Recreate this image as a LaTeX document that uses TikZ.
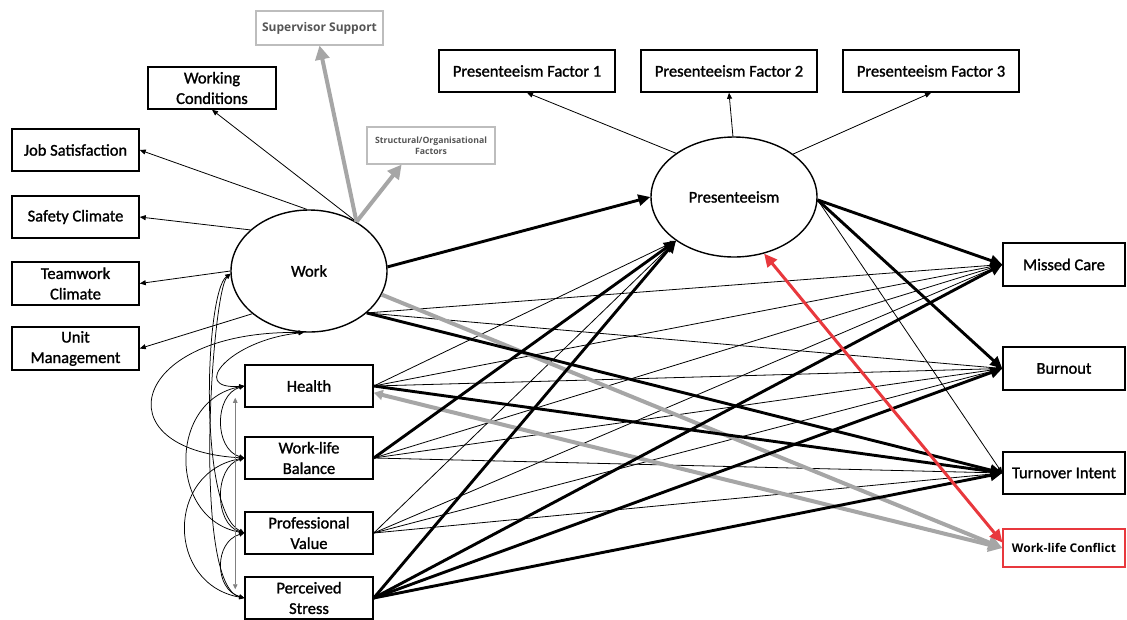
\documentclass[tikz,border=0pt]{standalone}
\usepackage{fontspec}
\setmainfont{Carlito}
\newfontfamily\boxfont{Carlito}[FakeBold=1.3]
\newfontfamily\labfont{Open Sans}
\usetikzlibrary{arrows.meta,shapes.geometric}
\definecolor{arrgray}{HTML}{A6A6A6}
\definecolor{boxgray}{HTML}{BDBDBD}
\definecolor{txtgray}{HTML}{555555}
\definecolor{linkred}{HTML}{E8383D}
\begin{document}
\begin{tikzpicture}[x=1pt,y=-1pt,
  box/.style={draw, line width=1.5pt, rectangle, inner sep=0pt, align=center,
    font=\boxfont\fontsize{16.5}{20.5}\selectfont, minimum height=42pt},
  latent/.style={draw, line width=1.4pt, ellipse, inner sep=0pt,
    font=\boxfont\fontsize{16.5}{20.5}\selectfont},
  greybox/.style={draw=boxgray, line width=1.1pt, rectangle, inner sep=0pt, align=center,
    text=txtgray},
  thinarr/.style={line width=0.8pt, -{Triangle[length=6pt,width=5pt]}},
  strongarr/.style={line width=2.9pt, -{Triangle[length=12pt,width=11pt]}},
  greyarr/.style={line width=4pt, draw=arrgray, -{Triangle[length=14pt,width=14pt]}},
  greydbl/.style={line width=4pt, draw=arrgray, {Triangle[length=9pt,width=10pt]}-{Triangle[length=14pt,width=14pt]}},
  reddbl/.style={line width=3pt, draw=linkred, {Triangle[length=13pt,width=12pt]}-{Triangle[length=13pt,width=12pt]}},
  cov/.style={line width=0.75pt, {Triangle[length=5pt,width=4.5pt]}-{Triangle[length=5pt,width=4.5pt]}}
]
\useasboundingbox (0,0) rectangle (1127,619);

% indicators of the Work factor
\node[greybox, minimum width=127pt, minimum height=34pt, font=\labfont\bfseries\fontsize{12}{14}\selectfont] (sup) at (319.5,28) {Supervisor Support};
\node[box, minimum width=128pt] (wcond) at (212,88) {Working\\Conditions};
\node[box, minimum width=127pt] (jobsat) at (75.5,150) {Job Satisfaction};
\node[box, minimum width=127pt] (safety) at (75.5,217) {Safety Climate};
\node[box, minimum width=127pt, minimum height=43pt] (team) at (75.5,283.5) {Teamwork\\Climate};
\node[box, minimum width=127pt, minimum height=43pt] (unit) at (75.5,348.5) {Unit\\Management};
\node[greybox, minimum width=128pt, minimum height=37pt, font=\labfont\bfseries\fontsize{8.7}{11}\selectfont] (struct) at (431,145.5) {Structural/Organisational\\Factors};

% latent variables
\node[latent, minimum width=156pt, minimum height=122pt] (work) at (309,271) {Work};
\node[latent, minimum width=166pt, minimum height=120pt] (pres) at (734,197) {Presenteeism};

% indicators of Presenteeism
\node[box, minimum width=176pt] (f1) at (527,71) {Presenteeism Factor 1};
\node[box, minimum width=176pt] (f2) at (729,71) {Presenteeism Factor 2};
\node[box, minimum width=176pt] (f3) at (931,71) {Presenteeism Factor 3};

% outcomes
\node[box, minimum width=122pt, minimum height=43pt] (mc) at (1064,264.5) {Missed Care};
\node[box, minimum width=122pt, minimum height=43pt] (burn) at (1064,368.5) {Burnout};
\node[box, minimum width=122pt] (turn) at (1064,473) {Turnover Intent};
\node[draw=linkred, line width=1.1pt, rectangle, inner sep=0pt, minimum width=122pt, minimum height=38pt,
  font=\labfont\bfseries\fontsize{12}{14}\selectfont] (wlc) at (1064,548) {Work-life Conflict};

% observed predictors
\node[box, minimum width=128pt] (health) at (309,386) {Health};
\node[box, minimum width=128pt] (wlb) at (309,458) {Work-life\\Balance};
\node[box, minimum width=128pt] (pv) at (309,533) {Professional\\Value};
\node[box, minimum width=128pt] (ps) at (309,598) {Perceived\\Stress};

% loadings of Work
\draw[thinarr] (work.46) -- (wcond.south);
\draw[thinarr] (work.92) -- (jobsat.east);
\draw[thinarr] (work.145) -- (safety.east);
\draw[thinarr] (work.west) -- (team.east);
\draw[thinarr] (work.217) -- (unit.east);
\draw[greyarr] (work.46) -- (sup.south);
\draw[greyarr] (work.46) -- (struct.213);

% loadings of Presenteeism
\draw[thinarr] (pres.143) -- (f1.south);
\draw[thinarr] (pres.91) -- (f2.south);
\draw[thinarr] (pres.36) -- (f3.south);

% covariances among the predictors
\draw[cov] (work.265) .. controls (230,340) and (188,390) .. (health.west);
\draw[cov] (work.265) .. controls (130,330) and (100,450) .. (wlb.west);
\draw[cov] (work.182) .. controls (205,292) and (198,510) .. (pv.west);
\draw[cov] (work.182) .. controls (212,292) and (192,585) .. (ps.west);
\draw[cov] (health.west) .. controls (214,395) and (214,449) .. (wlb.west);
\draw[cov] (wlb.west) .. controls (214,467) and (214,524) .. (pv.west);
\draw[cov] (pv.west) .. controls (214,542) and (214,589) .. (ps.west);
\draw[cov] (health.west) .. controls (168,400) and (168,519) .. (pv.west);
\draw[cov] (wlb.west) .. controls (166,472) and (166,584) .. (ps.west);
\draw[cov, draw=gray] ([xshift=-9pt,yshift=10pt]health.south west) -- ([xshift=-9pt,yshift=-13pt]ps.north west);

% thin (non-significant) paths
\draw[thinarr] (work.-36) -- (mc.west);
\draw[thinarr] (work.-36) -- (burn.west);
\draw[thinarr] (health.east) -- (pres.217);
\draw[thinarr] (health.east) -- (mc.west);
\draw[thinarr] (health.east) -- (burn.west);
\draw[thinarr] (wlb.east) -- (mc.west);
\draw[thinarr] (wlb.east) -- (burn.west);
\draw[thinarr] (wlb.east) -- (turn.west);
\draw[thinarr] (pv.east) -- (pres.217);
\draw[thinarr] (pv.east) -- (mc.west);
\draw[thinarr] (pv.east) -- (burn.west);
\draw[thinarr] (pv.east) -- (turn.west);
\draw[thinarr] (pres.-2) -- (turn.west);

% grey paths to work-life conflict
\draw[greyarr] (work.-18) -- (wlc.west);
\draw[greydbl] (health.-6) -- (wlc.west);

% strong (significant) paths
\draw[strongarr] (work.3) -- (pres.west);
\draw[strongarr] (work.-36) -- (turn.west);
\draw[strongarr] (health.east) -- (turn.west);
\draw[strongarr] (wlb.east) -- (pres.217);
\draw[strongarr] (ps.east) -- (pres.217);
\draw[strongarr] (ps.east) -- (mc.west);
\draw[strongarr] (ps.east) -- (burn.west);
\draw[strongarr] (ps.east) -- (turn.west);
\draw[strongarr] (pres.-2) -- (mc.west);
\draw[strongarr] (pres.-2) -- (burn.west);

% presenteeism and work-life conflict
\draw[reddbl] (pres.-62) -- (wlc.175);
\end{tikzpicture}
\end{document}
